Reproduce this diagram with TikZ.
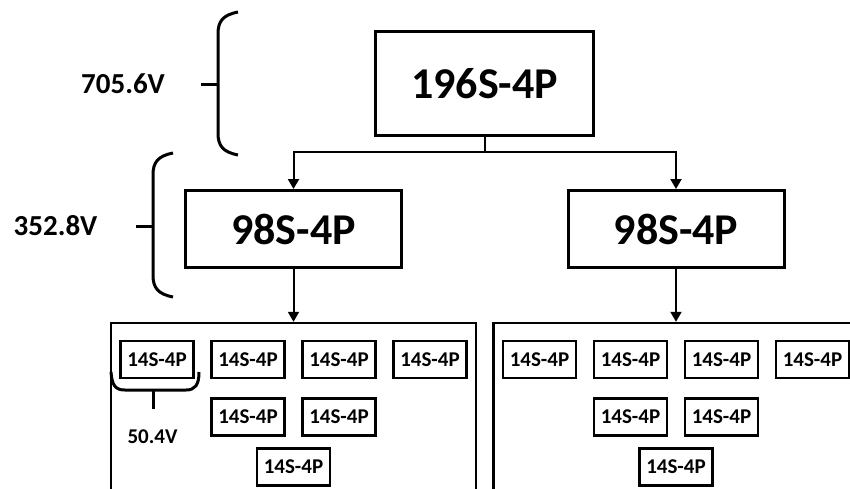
\documentclass[tikz,border=0pt]{standalone}
\usepackage{fontspec}
\setmainfont{Carlito}
\usetikzlibrary{arrows.meta}

\begin{document}
\begin{tikzpicture}[x=1pt,y=-1pt,
    >={Triangle[length=10pt,width=11pt]},
    pack/.style={draw,line width=3pt,inner sep=0pt,font=\bfseries\fontsize{44}{44}\selectfont},
    cell/.style={draw,line width=2.6pt,minimum width=73pt,minimum height=37pt,inner sep=0pt,font=\bfseries\fontsize{21}{21}\selectfont},
    bin/.style={draw,line width=2.4pt,minimum width=365pt,minimum height=220pt,inner sep=0pt},
    volt/.style={font=\bfseries\fontsize{29}{29}\selectfont},
    wire/.style={line width=2pt},
    brace/.style={line width=3pt}]
  \useasboundingbox (0,0) rectangle (850,488);
  \clip (0,0) rectangle (850,488);
    \def\dx{91};
    \def\rowa{359.5};
    \def\rowb{417};
    \def\rowc{467};

    \node[pack,minimum width=218pt,minimum height=104pt] (top) at (484.5,83.5) {196S-4P};

    \node[pack,minimum width=216pt,minimum height=77pt] (modL) at (293.5,229) {98S-4P};
    \node[bin] (binL) at (293.5,433) {};
    \node[cell] (cL1) at (157,\rowa) {14S-4P};
    \node[cell] (cL2) at (157+\dx,\rowa) {14S-4P};
    \node[cell] (cL3) at (157+2*\dx,\rowa) {14S-4P};
    \node[cell] (cL4) at (157+3*\dx,\rowa) {14S-4P};
    \node[cell] (cL5) at (157+\dx,\rowb) {14S-4P};
    \node[cell] (cL6) at (157+2*\dx,\rowb) {14S-4P};
    \node[cell] (cL7) at (157+1.5*\dx,\rowc) {14S-4P};

    \begin{scope}[shift={(382.5,0)}]
    \node[pack,minimum width=216pt,minimum height=77pt] (modR) at (293.5,229) {98S-4P};
    \node[bin] (binR) at (293.5,433) {};
    \node[cell] (cR1) at (157,\rowa) {14S-4P};
    \node[cell] (cR2) at (157+\dx,\rowa) {14S-4P};
    \node[cell] (cR3) at (157+2*\dx,\rowa) {14S-4P};
    \node[cell] (cR4) at (157+3*\dx,\rowa) {14S-4P};
    \node[cell] (cR5) at (157+\dx,\rowb) {14S-4P};
    \node[cell] (cR6) at (157+2*\dx,\rowb) {14S-4P};
    \node[cell] (cR7) at (157+1.5*\dx,\rowc) {14S-4P};
    \end{scope}

    \draw[wire,->] (top.south)--++(0,15)-|(modL.north);
    \draw[wire,->] (top.south)--++(0,15)-|(modR.north);
    \draw[wire,->] (modL.south)--(binL.north);
    \draw[wire,->] (modR.south)--(binR.north);

    %braces
    \draw[brace] (238,12) .. controls (223,15) and (218,21) .. (218,34)--(218,133) .. controls (218,146) and (223,152) .. (238,155);
    \draw[brace] (201,84)--(218,84);
    \node[volt] (v1) at (123,84) {705.6V};

    \draw[brace] (173,153) .. controls (158,156) and (153,162) .. (153,175)--(153,275) .. controls (153,288) and (158,294) .. (173,297);
    \draw[brace] (136,226)--(153,226);
    \node[volt] (v2) at (55.5,226) {352.8V};

    \draw[brace] (111,372) .. controls (112,385) and (115,390) .. (125,390)--(186,390) .. controls (195,390) and (199,385) .. (199,372);
    \draw[brace] (153,390)--(153,409);
    \node[font=\bfseries\fontsize{21}{21}\selectfont] (v3) at (152.5,437) {50.4V};
  \end{tikzpicture}
\end{document}
